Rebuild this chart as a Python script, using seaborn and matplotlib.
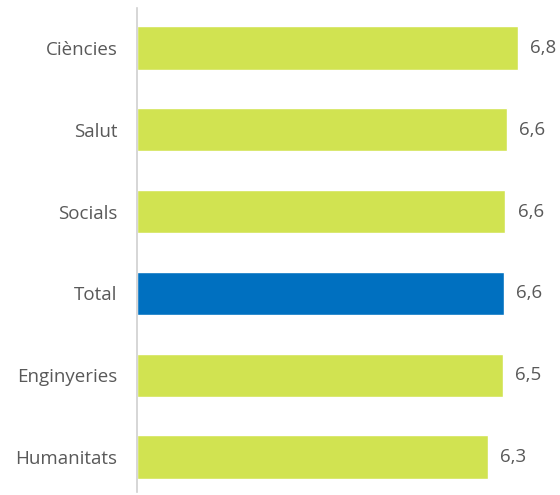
import matplotlib
matplotlib.use("Agg")
import matplotlib.pyplot as plt
import seaborn as sns
import pandas as pd

categories = ["Ciències", "Salut", "Socials", "Total", "Enginyeries", "Humanitats"]
values = [6.80, 6.61, 6.58, 6.55, 6.53, 6.26]
value_labels = ["6,8", "6,6", "6,6", "6,6", "6,5", "6,3"]
colors = ["#d1e351", "#d1e351", "#d1e351", "#0070c0", "#d1e351", "#d1e351"]

sns.set_theme(style="white")
plt.rcParams['font.family'] = ['Open Sans', 'DejaVu Sans']

df = pd.DataFrame({"cat": categories, "val": values})

fig = plt.figure(figsize=(5.6, 4.95), dpi=100)
ax = fig.add_axes([137/560, 3/495, 423/560, 484/495])
sns.barplot(data=df, y="cat", x="val", hue="cat", palette=colors, legend=False,
            orient="h", width=0.53, ax=ax, saturation=1)

for i, (v, lab) in enumerate(zip(values, value_labels)):
    ax.text(v + 0.22, i, lab, va="center", ha="left", fontsize=13.5, color="#595959")

ax.set_xlim(0, 423/56)
ax.set_ylim(5.428, -0.489)
ax.set_xlabel("")
ax.set_ylabel("")
ax.set_xticks([])
for s in ["top", "right", "bottom"]:
    ax.spines[s].set_visible(False)
ax.spines["left"].set_color("#d0d0d0")
ax.spines["left"].set_linewidth(1.2)
ax.tick_params(axis="y", length=0, pad=14, labelsize=13.5, labelcolor="#595959")

fig.savefig("out.png", dpi=100)
